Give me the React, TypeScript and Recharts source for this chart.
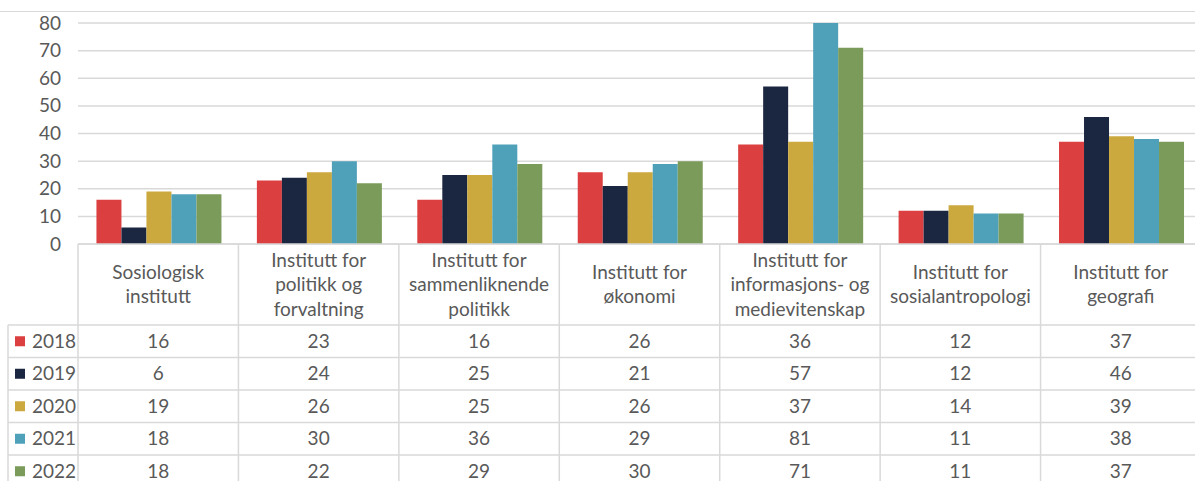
import React from "react";
import { BarChart, Bar, XAxis, YAxis, CartesianGrid } from "recharts";

const categories = [
  "Sosiologisk\ninstitutt",
  "Institutt for\npolitikk og\nforvaltning",
  "Institutt for\nsammenliknende\npolitikk",
  "Institutt for\nøkonomi",
  "Institutt for\ninformasjons- og\nmedievitenskap",
  "Institutt for\nsosialantropologi",
  "Institutt for\ngeografi",
];
const years = ["2018", "2019", "2020", "2021", "2022"];
const v2018 = [16, 23, 16, 26, 36, 12, 37];
const v2019 = [6, 24, 25, 21, 57, 12, 46];
const v2020 = [19, 26, 25, 26, 37, 14, 39];
const v2021 = [18, 30, 36, 29, 81, 11, 38];
const v2022 = [18, 22, 29, 30, 71, 11, 37];
const yTicks = [0, 10, 20, 30, 40, 50, 60, 70, 80];

const series = [v2018, v2019, v2020, v2021, v2022];
const colors = ["#DC3F3F", "#1B2640", "#CCA93F", "#4FA1BA", "#7A9B59"];

const data = categories.map((c, i) => {
  const row: any = { name: c };
  years.forEach((y, k) => (row[y] = series[k][i]));
  return row;
});

// layout
const CHART_W = 1210;
const CHART_H = 500;
const LEFT = 78;
const RIGHT_MARGIN = 9;
const TOP = 23;
const AXIS_Y = 244;
const PLOT_W = CHART_W - LEFT - RIGHT_MARGIN;
const CELL_W = PLOT_W / categories.length;
const HEADER_BOTTOM = 325;
const ROW_H = 32.5;
const LINE_H = 24.5;
const GRID = "#D9D9D9";
const TXT = "#595959";
const FONT = "Lato, 'Open Sans', sans-serif";
const FS = 19;

const XTick = (props: any) => {
  const { x, payload, index } = props;
  const lines = String(payload.value).split("\n");
  const headerCenter = (AXIS_Y + HEADER_BOTTOM) / 2;
  const els: any[] = [];
  const left = x - CELL_W / 2;
  els.push(
    <line key="vl" x1={left} x2={left} y1={AXIS_Y} y2={CHART_H} stroke={GRID} strokeWidth={1.5} />
  );
  if (index === categories.length - 1) {
    els.push(
      <line key="vr" x1={left + CELL_W} x2={left + CELL_W} y1={AXIS_Y} y2={CHART_H} stroke={GRID} strokeWidth={1.5} />
    );
  }
  lines.forEach((l, i) => {
    els.push(
      <text
        key={"h" + i}
        x={x}
        y={headerCenter + (i - (lines.length - 1) / 2) * LINE_H + 6.5}
        textAnchor="middle"
        fill={TXT}
        fontSize={FS}
        fontFamily={FONT}
      >
        {l}
      </text>
    );
  });
  series.forEach((s, k) => {
    els.push(
      <text
        key={"v" + k}
        x={x}
        y={HEADER_BOTTOM + ROW_H * k + ROW_H / 2 + 6.5}
        textAnchor="middle"
        fill={TXT}
        fontSize={FS}
        fontFamily={FONT}
      >
        {s[index]}
      </text>
    );
  });
  if (index === 0) {
    els.push(
      <line key="lv" x1={8} x2={8} y1={HEADER_BOTTOM} y2={CHART_H} stroke={GRID} strokeWidth={1.5} />
    );
    years.forEach((yr, k) => {
      const yTop = HEADER_BOTTOM + ROW_H * k;
      els.push(
        <line key={"hl" + k} x1={8} x2={CHART_W} y1={yTop} y2={yTop} stroke={GRID} strokeWidth={1.5} />
      );
      els.push(
        <rect key={"sq" + k} x={15} y={yTop + ROW_H / 2 - 5} width={10} height={10} fill={colors[k]} />
      );
      els.push(
        <text
          key={"yl" + k}
          x={32}
          y={yTop + ROW_H / 2 + 6.5}
          textAnchor="start"
          fill={TXT}
          fontSize={FS}
          fontFamily={FONT}
        >
          {yr}
        </text>
      );
    });
  }
  return <g>{els}</g>;
};

const YTick = (props: any) => {
  const { y, payload } = props;
  return (
    <text x={61} y={y + 6.5} textAnchor="end" fill={TXT} fontSize={FS} fontFamily={FONT}>
      {payload.value}
    </text>
  );
};

export default function App() {
  return (
    <div
      style={{
        position: "absolute",
        left: 0,
        top: 0,
        width: 1195,
        height: 481,
        overflow: "hidden",
        background: "#fff",
      }}
    >
      <div
        style={{
          position: "absolute",
          left: 0,
          top: 11,
          width: 1195,
          borderTop: "1px solid #D9D9D9",
        }}
      />
      <BarChart
        width={CHART_W}
        height={CHART_H}
        data={data}
        margin={{ top: TOP, right: RIGHT_MARGIN, left: 0, bottom: 0 }}
        barCategoryGap="11.5%"
        barGap={0}
      >
        <CartesianGrid vertical={false} stroke={GRID} strokeWidth={1.5} />
        <YAxis
          width={LEFT}
          domain={[0, 80]}
          ticks={yTicks}
          allowDataOverflow
          axisLine={false}
          tickLine={false}
          tick={<YTick />}
        />
        <XAxis
          dataKey="name"
          height={CHART_H - AXIS_Y}
          interval={0}
          tickLine={false}
          tickSize={0}
          axisLine={{ stroke: GRID, strokeWidth: 1.5 }}
          tick={<XTick />}
        />
        {years.map((y, k) => (
          <Bar key={y} dataKey={y} fill={colors[k]} isAnimationActive={false} />
        ))}
      </BarChart>
    </div>
  );
}
